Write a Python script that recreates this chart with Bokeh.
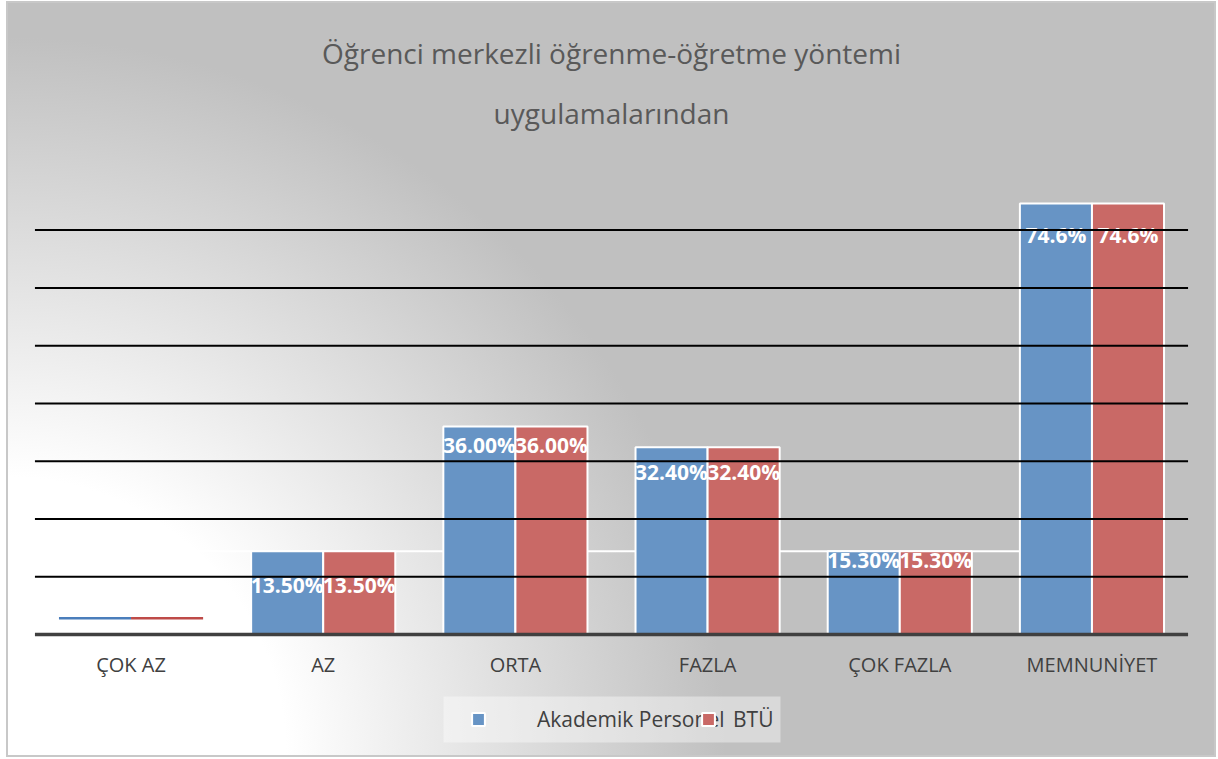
from bokeh.plotting import figure
from bokeh.models import ColumnDataSource, Range1d, FactorRange, Legend, LegendItem
from bokeh.transform import dodge
from bokeh.core.properties import value
from bokeh.embed import file_html
from bokeh.resources import INLINE

# ---------------- data ----------------
categories = ["ÇOK AZ", "AZ", "ORTA", "FAZLA", "ÇOK FAZLA", "MEMNUNİYET"]
akademik = [2.8, 14.4, 36.0, 32.4, 14.4, 74.6]      # bar heights as drawn
btu = [2.8, 14.4, 36.0, 32.4, 14.4, 74.6]
akademik_labels = ["", "13.50%", "36.00%", "32.40%", "15.30%", "74.6%"]
btu_labels = ["", "13.50%", "36.00%", "32.40%", "15.30%", "74.6%"]
grid_ticks = [10, 20, 30, 40, 50, 60, 70]
white_rule = 14.4
series_names = ["Akademik Personel", "BTÜ"]
title_lines = ["Öğrenci merkezli öğrenme-öğretme yöntemi", "uygulamalarından"]

# ---------------- style / layout ----------------
label_dy = [0, 34, 18, 25, 9, 31]      # px offsets of value labels below bar tops
FONT = "Open Sans"
BLUE = "#6794c5"
RED = "#c96966"
W, H = 1210, 756
PAD = 0.148            # category range padding
SCALE = 5.777          # px per percent
BASE = 633             # baseline, px from top of figure
PX_PER_CAT = W / (len(categories) + 2 * PAD)


def yv(px_from_top):
    return (BASE - px_from_top) / SCALE


def xoff(px_from_left):
    """offset (in category units) from the first category's centre"""
    return px_from_left / PX_PER_CAT - PAD - 0.5


p = figure(x_range=FactorRange(*categories, range_padding=PAD, range_padding_units="absolute"),
           y_range=Range1d(yv(H), yv(0)),
           width=W, height=H, output_backend="svg", toolbar_location=None,
           x_axis_location=None, y_axis_location=None,
           min_border_left=0, min_border_right=0, min_border_top=0, min_border_bottom=0)
p.background_fill_alpha = 0
p.border_fill_alpha = 0
p.outline_line_color = None
p.grid.visible = False
p.styles = {
    "margin-left": "6px",
    "margin-top": "1px",
    "background": "radial-gradient(circle at 0% 100%, #ffffff 0px, #ffffff 280px, #c0c0c0 720px)",
    "box-shadow": "inset 0 0 0 2px #c8c8c8",
}

xr = p.x_range
first, last = categories[0], categories[-1]

# white rule behind bars
wsrc = ColumnDataSource(dict(a=[first], b=[last], y=[white_rule]))
p.segment(x0=dodge("a", -0.5, range=xr), x1=dodge("b", -0.375, range=xr), y0="y", y1="y",
          source=wsrc, line_color="white", line_width=2)

# bars (ÇOK AZ only shown as thin lines)
src = ColumnDataSource(dict(x=categories[1:], a=akademik[1:], b=btu[1:],
                            al=akademik_labels[1:], bl=btu_labels[1:], dy=label_dy[1:]))
rb = p.vbar(x=dodge("x", -0.1875, range=xr), top="a", width=0.375, source=src,
            fill_color=BLUE, line_color="white", line_width=2)
rr = p.vbar(x=dodge("x", 0.1875, range=xr), top="b", width=0.375, source=src,
            fill_color=RED, line_color="white", line_width=2)

src0 = ColumnDataSource(dict(x=categories[:1], a=akademik[:1], b=btu[:1]))
p.segment(x0=dodge("x", -0.375, range=xr), x1=dodge("x", 0.0, range=xr),
          y0="a", y1="a", source=src0, line_color="#4a7ebb", line_width=2.5)
p.segment(x0=dodge("x", 0.0, range=xr), x1=dodge("x", 0.375, range=xr),
          y0="b", y1="b", source=src0, line_color="#be4b48", line_width=2.5)

# value labels
for off, ycol, tcol in [(-0.1875, "a", "al"), (0.1875, "b", "bl")]:
    p.text(x=dodge("x", off, range=xr), y=ycol, text=tcol, y_offset="dy", source=src,
           text_font=value(FONT), text_font_style="bold", text_font_size="21px",
           text_color="white", text_align="center", text_baseline="middle")

# black grid lines over everything
gsrc = ColumnDataSource(dict(a=[first] * len(grid_ticks), b=[last] * len(grid_ticks), y=grid_ticks))
p.segment(x0=dodge("a", -0.5, range=xr), x1=dodge("b", 0.5, range=xr), y0="y", y1="y",
          source=gsrc, line_color="black", line_width=2)

# axis line
asrc = ColumnDataSource(dict(a=[first], b=[last], y=[0]))
p.segment(x0=dodge("a", -0.5, range=xr), x1=dodge("b", 0.5, range=xr), y0="y", y1="y",
          source=asrc, line_color="#404040", line_width=3.5)

# category labels
csrc = ColumnDataSource(dict(x=categories, y=[0] * len(categories)))
p.text(x="x", y="y", text="x", source=csrc, y_offset=30,
       text_font=value(FONT), text_font_size="20px", text_color="#404040",
       text_align="center", text_baseline="middle")

# title (two lines)
tsrc = ColumnDataSource(dict(x=[categories[2]] * 2, y=[yv(51), yv(111)], t=title_lines))
p.text(x=dodge("x", 0.5, range=xr), y="y", text="t", source=tsrc,
       text_font=value(FONT), text_font_size="28px", text_color="#595959",
       text_align="center", text_baseline="middle")

# legend background box
lsrc = ColumnDataSource(dict(a=[first]))
p.quad(left=dodge("a", xoff(437), range=xr), right=dodge("a", xoff(774), range=xr),
       bottom=yv(741), top=yv(695), source=lsrc,
       fill_color="white", fill_alpha=0.4, line_color=None)

# legends
common = dict(orientation="horizontal", padding=0, margin=0, spacing=0,
              glyph_width=16, glyph_height=16, label_height=22,
              label_text_font=FONT, label_text_font_size="21px",
              label_text_color="#404040", background_fill_alpha=0,
              border_line_color=None)
leg1 = Legend(items=[LegendItem(label=series_names[0], renderers=[rb])],
              location=(464, 24), label_standoff=51, **common)
leg2 = Legend(items=[LegendItem(label=series_names[1], renderers=[rr])],
              location=(694, 24), label_standoff=17, **common)
p.add_layout(leg1)
p.add_layout(leg2)

open("out.html", "w").write(file_html(p, INLINE))
